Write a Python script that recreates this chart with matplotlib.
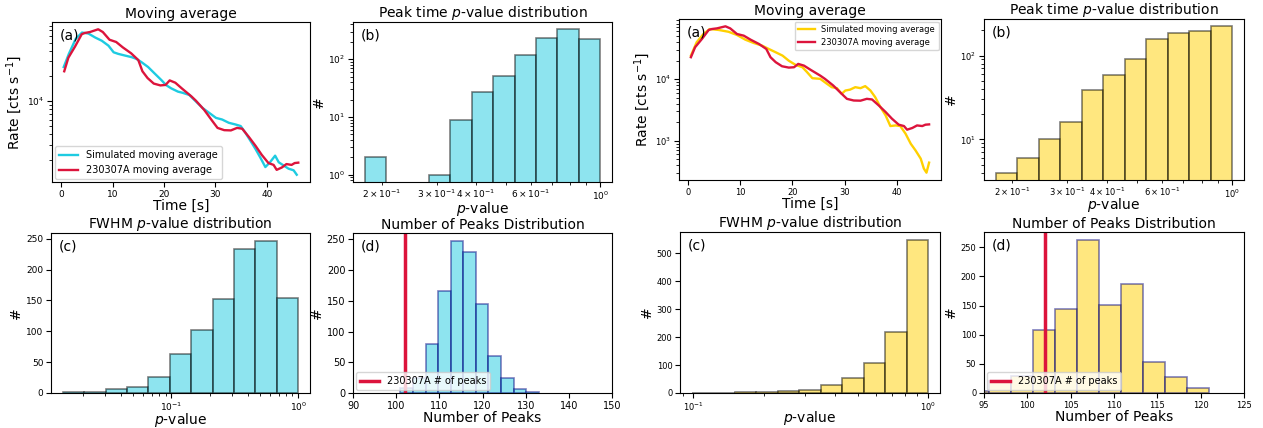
import numpy as np
import matplotlib
matplotlib.use("Agg")
import matplotlib.pyplot as plt

##### Moving average curves (time [s], rate [cts/s])
grb_t = [0.6, 1.4, 2.7, 4.0, 4.6, 5.6, 7.2, 8.1, 9.4, 10.7, 12.0, 13.6, 15.0, 15.8,
         16.8, 18.0, 19.3, 20.3, 21.1, 22.2, 23.5, 25.3, 26.2, 27.8, 29.4, 30.4, 31.7,
         33.0, 34.2, 35.2, 36.5, 37.8, 39.0, 40.3, 41.3, 41.9, 42.9, 43.8, 44.8, 45.4, 46.1]
grb_rate = [22750, 33040, 44980, 63100, 65310, 66990, 72280, 66990, 54200, 50930, 43850,
            37330, 30970, 22750, 18880, 16220, 15420, 15630, 17700, 16600, 14130, 11430,
            10120, 7870, 5780, 4790, 4500, 4470, 4790, 4680, 3730, 2920, 2280, 1820, 1730,
            1510, 1610, 1770, 1730, 1820, 1840]

cyan_t = [0.5, 1.5, 2.8, 4.05, 5.3, 6.6, 7.9, 9.2, 10.2, 11.1, 12.4, 13.7, 14.6, 15.6,
          16.9, 18.2, 19.5, 20.4, 21.4, 22.7, 23.6, 24.9, 26.2, 27.5, 28.8, 30.1, 31.3,
          32.6, 33.9, 34.9, 35.8, 36.8, 37.8, 38.7, 39.7, 40.6, 41.6, 42.3, 43.2, 44.2,
          45.2, 45.8]
cyan_rate = [25590, 36730, 55080, 66070, 64270, 57680, 52720, 46030, 38370, 36730, 35080,
             33570, 32060, 29310, 25590, 21330, 17820, 15560, 14220, 13000, 12590, 11860,
             9910, 8280, 7230, 6310, 6030, 5510, 5260, 5040, 4210, 3360, 2670, 2130, 1630,
             1860, 2230, 1860, 1710, 1560, 1490, 1320]

gold_t = [0.6, 1.7, 3.0, 4.2, 5.9, 7.8, 9.4, 11.0, 12.6, 14.2, 15.5, 16.8, 18.1, 19.3,
          20.6, 21.9, 22.8, 23.8, 25.3, 26.6, 27.5, 28.5, 29.4, 30.1, 31.0, 32.0, 33.0,
          33.9, 34.9, 35.8, 36.8, 37.8, 38.7, 39.7, 40.6, 41.6, 42.6, 43.5, 44.5, 45.1,
          45.6, 46.1]
gold_rate = [24150, 39810, 54200, 65310, 63100, 58880, 52240, 43850, 38730, 35080, 30900,
             27350, 24150, 19950, 17060, 15630, 12970, 10370, 10120, 8390, 7410, 7140, 5780,
             6530, 6760, 7410, 7140, 7710, 6530, 5110, 3520, 2570, 1730, 1770, 1730, 1300,
             891, 697, 511, 352, 302, 440]

##### Histograms (counts per bin)
pt_counts_cyan = [2, 0, 0, 1, 9, 27, 52, 116, 233, 329, 219]
pt_lo_cyan = 0.1766
pt_counts_gold = [4, 6, 10, 16, 39, 59, 90, 158, 186, 197, 223]
pt_lo_gold = 0.178

fwhm_counts_cyan = [1, 2, 7, 9, 26, 64, 102, 153, 233, 247, 154]
fwhm_lo_cyan = 0.0139
fwhm_counts_gold = [1, 1, 2, 2, 8, 12, 30, 52, 109, 219, 549]
fwhm_lo_gold = 0.0984

npk_counts_cyan = [8, 25, 80, 166, 248, 230, 145, 61, 25, 7, 2]
npk_range_cyan = (101, 133)
npk_counts_gold = [3, 21, 30, 108, 144, 263, 151, 187, 54, 27, 8]
npk_range_gold = (93, 121)
npk_observed = 102

CYAN = '#1ecbe1'
GOLD = '#ffd000'
RED = 'crimson'

W, H = 1263, 428
fig = plt.figure(figsize=(W / 100, H / 100), dpi=100)


def box(x0, y0, x1, y1):
    return [x0 / W, (H - y1) / H, (x1 - x0) / W, (y1 - y0) / H]


def panel(ax, lab):
    ax.text(0.03, 0.915, lab, transform=ax.transAxes, va='center', ha='left', fontsize=10)


def axis_text(ax, xl, yl, tick_fs, xpad=0):
    ax.set_xlabel(xl, fontsize=10, labelpad=xpad)
    ax.set_ylabel(yl, fontsize=10, labelpad=2)
    ax.tick_params(which='both', labelsize=tick_fs, pad=2)


def log_hist(ax, counts, lo, color, ylog, tick_fs):
    edges = np.logspace(np.log10(lo), 0, len(counts) + 1)
    centers = np.sqrt(edges[:-1] * edges[1:])
    ax.hist(centers, bins=edges, weights=counts, color=color, edgecolor='k',
            alpha=0.5, linewidth=1.2)
    ax.set_xscale('log')
    if ylog:
        ax.set_yscale('log')
    axis_text(ax, '$p$-value', '#', tick_fs, xpad=-1.5 if tick_fs > 6 else -3)


def peaks_hist(ax, counts, rng, color, xlim, tick_fs):
    edges = np.linspace(rng[0], rng[1], len(counts) + 1)
    centers = 0.5 * (edges[:-1] + edges[1:])
    ax.hist(centers, bins=edges, weights=counts, color=color, edgecolor='navy',
            alpha=0.5, linewidth=1.2)
    ax.axvline(npk_observed, color=RED, lw=2.5, label='230307A # of peaks')
    ax.set_xlim(*xlim)
    ax.set_title('Number of Peaks Distribution', fontsize=10, pad=3)
    axis_text(ax, 'Number of Peaks', '#', tick_fs)
    ax.legend(loc='lower left', fontsize=7, borderaxespad=0.3)


def rate_plot(ax, t, r, color, legloc, leg_fs, tick_fs):
    ax.plot(t, r, color=color, lw=1.7, label='Simulated moving average')
    ax.plot(grb_t, grb_rate, color=RED, lw=1.7, label='230307A moving average')
    ax.set_yscale('log')
    ax.set_title('Moving average', fontsize=10, pad=3)
    axis_text(ax, 'Time [s]', 'Rate [cts s$^{-1}$]', tick_fs)
    ax.legend(loc=legloc, fontsize=leg_fs, borderaxespad=0.3)
    ax.set_xticks([0, 10, 20, 30, 40])


##### Left group (cyan)
ax = fig.add_axes(box(52, 22, 310, 182))
rate_plot(ax, cyan_t, cyan_rate, CYAN, 'lower left', 7, 6.5)
panel(ax, '(a)')

ax = fig.add_axes(box(353, 22, 612, 182))
log_hist(ax, pt_counts_cyan, pt_lo_cyan, CYAN, True, 6.5)
ax.set_title('Peak time $p$-value distribution', fontsize=10, pad=3)
panel(ax, '(b)')

ax = fig.add_axes(box(51, 233, 310, 393))
log_hist(ax, fwhm_counts_cyan, fwhm_lo_cyan, CYAN, False, 6.5)
ax.set_title('FWHM $p$-value distribution', fontsize=10, pad=3)
panel(ax, '(c)')

ax = fig.add_axes(box(353, 233, 612, 393))
peaks_hist(ax, npk_counts_cyan, npk_range_cyan, CYAN, (90, 150), 7)
panel(ax, '(d)')

##### Right group (gold)
ax = fig.add_axes(box(679, 19, 941, 180))
rate_plot(ax, gold_t, gold_rate, GOLD, 'upper right', 6, 6)
panel(ax, '(a)')

ax = fig.add_axes(box(984, 19, 1244, 180))
log_hist(ax, pt_counts_gold, pt_lo_gold, GOLD, True, 6)
ax.set_title('Peak time $p$-value distribution', fontsize=10, pad=3)
panel(ax, '(b)')

ax = fig.add_axes(box(680, 232, 940, 393))
log_hist(ax, fwhm_counts_gold, fwhm_lo_gold, GOLD, False, 6)
ax.set_title('FWHM $p$-value distribution', fontsize=10, pad=3)
panel(ax, '(c)')

ax = fig.add_axes(box(984, 232, 1244, 393))
peaks_hist(ax, npk_counts_gold, npk_range_gold, GOLD, (95, 125), 6)
panel(ax, '(d)')

fig.savefig('out.png', dpi=100)
